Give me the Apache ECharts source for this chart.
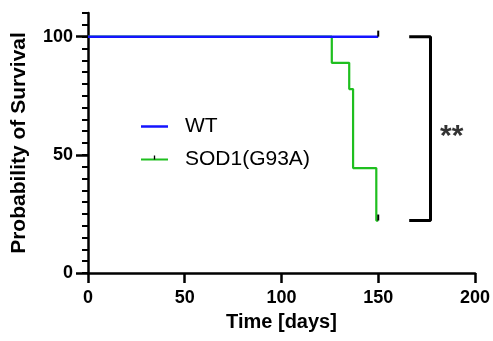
<!DOCTYPE html>
<html>
<head>
<meta charset="utf-8">
<script src="https://cdn.jsdelivr.net/npm/echarts@6/dist/echarts.min.js"></script>
<style>
  html, body { margin: 0; padding: 0; background: #fff; }
  #chart { width: 493px; height: 341px; }
</style>
</head>
<body>
<div id="chart"></div>
<script>
// survival curves (Kaplan-Meier, step)
const wtDays = [0, 150];
const wtSurvival = [100, 100];
const sodDays = [0, 126, 135, 137, 149, 150];
const sodSurvival = [100, 88.9, 77.8, 44.4, 22.2, 22.2];

// significance bracket + label
const bracketDays = [166, 177, 177, 166];
const bracketSurvival = [100, 100, 22.2, 22.2];
const starDay = 188;
const starSurvival = 57.5;
const starText = '**';

const xTicks = [0, 50, 100, 150, 200];
const yTicks = [0, 50, 100];

const FONT = 'Liberation Sans, Arial, Helvetica, sans-serif';
// vertical censor tick, upper half of the box so it sits above the point
const censorPath = 'path://M0,0M12,12M5,0h2v6h-2z';
const plainLineIcon = 'path://M0,0M27,10M0,3.75h27v2.5h-27z';

const pairs = (xs, ys) => xs.map((x, i) => [x, ys[i]]);

function withCensorLast(points) {
    return points.map((p, i) => i === points.length - 1
        ? { value: p, symbol: censorPath, symbolSize: 12 }
        : { value: p, symbol: 'none' });
}

const chart = echarts.init(document.getElementById('chart'), null, { renderer: 'canvas' });

const option = {
    animation: false,
    backgroundColor: '#fff',
    grid: { left: 88, right: 14, top: 13, bottom: 68 },
    legend: {
        data: [
            { name: 'WT', icon: plainLineIcon, itemStyle: { color: '#1414ff' } },
            'SOD1(G93A)'
        ],
        orient: 'vertical',
        left: 135,
        top: 111,
        itemWidth: 27,
        itemHeight: 10,
        itemGap: 12,
        selectedMode: false,
        textStyle: { fontFamily: FONT, fontSize: 21, color: '#000', padding: [0, 0, 0, 12] }
    },
    xAxis: {
        type: 'value',
        min: xTicks[0],
        max: xTicks[xTicks.length - 1],
        interval: 50,
        name: 'Time [days]',
        nameLocation: 'middle',
        nameGap: 39,
        nameTextStyle: { fontFamily: FONT, fontSize: 20, fontWeight: 'bold', color: '#000' },
        axisLine: { show: true, lineStyle: { color: '#000', width: 2.5 } },
        axisTick: { show: true, length: 10, lineStyle: { color: '#000', width: 2.5 } },
        axisLabel: { fontFamily: FONT, fontSize: 18, fontWeight: 'bold', color: '#000', margin: 16 },
        splitLine: { show: false }
    },
    yAxis: [
        {
            // minor ticks every 5
            type: 'value',
            min: 0,
            max: 110,
            interval: 5,
            position: 'left',
            axisLine: { show: true, lineStyle: { color: '#000', width: 2.5 } },
            axisTick: { show: true, length: 6, lineStyle: { color: '#000', width: 2 } },
            axisLabel: { show: false },
            splitLine: { show: false }
        },
        {
            type: 'value',
            min: 0,
            max: 110,
            interval: 50,
            position: 'left',
            name: 'Probability of Survival',
            nameLocation: 'middle',
            nameGap: 58,
            nameTextStyle: { fontFamily: FONT, fontSize: 21, fontWeight: 'bold', color: '#000' },
            axisLine: { show: false },
            axisTick: { show: true, customValues: yTicks, length: 12, lineStyle: { color: '#000', width: 2.5 } },
            axisLabel: { customValues: yTicks, fontFamily: FONT, fontSize: 18, fontWeight: 'bold', color: '#000', margin: 15 },
            splitLine: { show: false }
        }
    ],
    series: [
        {
            name: 'SOD1(G93A)',
            type: 'line',
            step: 'end',
            symbol: censorPath,
            symbolSize: 12,
            showSymbol: true,
            lineStyle: { color: '#1fbf1f', width: 2.2 },
            itemStyle: { color: '#000', borderWidth: 0 },
            data: withCensorLast(pairs(sodDays, sodSurvival)),
            z: 2
        },
        {
            name: 'WT',
            type: 'line',
            symbol: 'none',
            showSymbol: true,
            lineStyle: { color: '#1414ff', width: 2.5 },
            itemStyle: { color: '#000', borderWidth: 0 },
            data: withCensorLast(pairs(wtDays, wtSurvival)),
            z: 3
        },
        {
            name: 'bracket',
            type: 'line',
            symbol: 'none',
            silent: true,
            lineStyle: { color: '#000', width: 3 },
            data: pairs(bracketDays, bracketSurvival)
        },
        {
            name: 'stars',
            type: 'scatter',
            symbolSize: 1,
            silent: true,
            itemStyle: { color: 'transparent' },
            label: {
                show: true,
                position: 'inside',
                formatter: starText,
                fontFamily: FONT,
                fontSize: 30,
                fontWeight: 'bold',
                color: '#000'
            },
            data: [[starDay, starSurvival]]
        }
    ]
};

chart.setOption(option);
</script>
</body>
</html>
